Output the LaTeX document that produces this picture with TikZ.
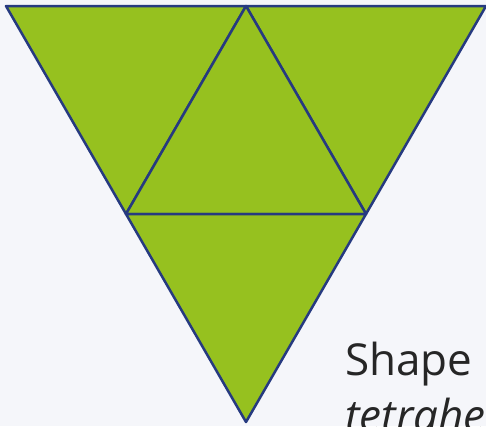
\documentclass[tikz,border=0pt]{standalone}
\usepackage{fontspec}
\setmainfont{Open Sans}
\definecolor{netBack}{RGB}{245,246,250}
\definecolor{netGreen}{RGB}{150,193,31}
\definecolor{netBlue}{RGB}{38,58,128}
\usetikzlibrary{positioning}

\begin{document}
\begin{tikzpicture}[x=1pt, y=-1pt,
  face/.style={fill=netGreen, draw=netBlue, line width=2.5pt, line join=round},
  caption/.style={font=\fontsize{44}{56}\selectfont, text=black!85,
                  anchor=base west, inner sep=0pt}
]
  \fill[netBack] (0,0) rectangle (486,426);
  \useasboundingbox (0,0) rectangle (486,426);
  % corners of the net
  \coordinate (tl) at (6,6);
  \coordinate (tm) at (246,6);
  \coordinate (tr) at (486,6);
  \coordinate (ml) at (126,214);
  \coordinate (mr) at (366,214);
  \coordinate (bot) at (246,422);
  % four faces
  \draw[face] (tl) -- (tm) -- (ml) -- cycle;
  \draw[face] (tm) -- (tr) -- (mr) -- cycle;
  \draw[face] (tm) -- (mr) -- (ml) -- cycle;
  \draw[face] (ml) -- (mr) -- (bot) -- cycle;
  \node[caption] (shape) at (345,375) {Shape};
  \node[caption] (name) at (345,431) {\itshape tetrahe};
\end{tikzpicture}
\end{document}
